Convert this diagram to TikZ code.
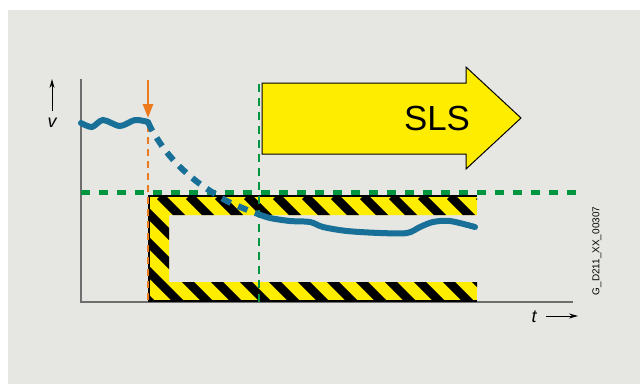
\documentclass[tikz,border=0pt]{standalone}
\usepackage{fontspec}
\setmainfont{Liberation Sans}
\usetikzlibrary{arrows.meta}
\definecolor{panelgray}{RGB}{230,231,226}
\definecolor{curveblue}{RGB}{24,112,152}
\definecolor{markorange}{RGB}{236,122,28}
\definecolor{limitgreen}{RGB}{0,150,64}
\definecolor{hazardyellow}{RGB}{255,237,0}
\definecolor{axisgray}{RGB}{110,110,110}

\begin{document}
\begin{tikzpicture}[x=1bp,y=-1bp]
  \useasboundingbox (0,0) rectangle (640,384);
  \fill[panelgray] (8,10) rectangle (640,384);
  % axes
  \coordinate (origin) at (81,302);
  \coordinate (ytop) at (81,79);
  \coordinate (xend) at (573,302);
  \draw[axisgray,line width=1.5bp] (ytop) -- (origin) -- (xend);
  \node[font=\itshape\fontsize{18}{18}\selectfont] (vlab) at (52,123) {v};
  \coordinate (vtip) at (52,79);
  \draw[-{Stealth[length=9bp,width=5bp]},line width=1bp] ([yshift=4bp]vlab.north) -- (vtip);
  \node[font=\itshape\fontsize{18}{18}\selectfont] (tlab) at (534,317) {t};
  \draw[-{Stealth[length=9bp,width=5bp]},line width=1bp] ([xshift=6bp,yshift=1bp]tlab.east) -- ++(32,0);
  % limit v_max
  \coordinate (vmaxL) at (81,192);
  \coordinate (vmaxR) at (576,192);
  \draw[limitgreen,line width=5bp,dash pattern=on 9bp off 9bp] (vmaxL) -- (vmaxR);
  % hatched band
  \begin{scope}
    \clip (149,196) -- (477,196) -- (477,215) -- (169,215) -- (169,282) -- (477,282) -- (477,301) -- (149,301) -- cycle;
    \fill[hazardyellow] (149,196) rectangle (477,301);
    \foreach \k in {-4,...,11}
      \draw[line width=8.5bp] (160+29*\k,196) -- ++(110,110);
  \end{scope}
  \draw[line width=1.2bp] (477,196) -- (149,196) -- (149,301) -- (477,301);
  % time marks
  \coordinate (sTop) at (259,84);
  \coordinate (sBot) at (259,302);
  \draw[limitgreen,line width=2.4bp,dash pattern=on 8bp off 6bp] (sTop) -- (sBot);
  \coordinate (tripTop) at (148,80);
  \coordinate (tripTip) at (148,118);
  \coordinate (tripBot) at (148,302);
  \draw[markorange,line width=2.6bp,-{Triangle[length=14bp,width=10bp]}] (tripTop) -- (tripTip);
  \draw[markorange,line width=2.6bp,dash pattern=on 7bp off 5bp] ([yshift=-7bp]tripTip) -- (tripBot);
  % speed curve
  \draw[curveblue,line width=6bp,line cap=round] plot[smooth] coordinates {(81,123) (92,127) (103,120) (120,126) (135,120) (148,122)};
  \draw[curveblue,line width=6bp,dash pattern=on 10bp off 8bp] plot[smooth] coordinates {(148,122) (153,132) (165,150) (180,167) (200,184) (225,200) (245,209) (258,214)};
  \draw[curveblue,line width=6bp,line cap=round] plot[smooth] coordinates {(258,214) (270,218) (290,221) (310,222) (323,227) (347,231) (380,233) (407,233) (420,227) (433,222) (450,221) (475,227)};
  % SLS arrow
  \draw[fill=hazardyellow,line width=1bp,line join=miter] (262,83) -- (466,83) -- (466,67) -- (521,118) -- (466,169) -- (466,154) -- (262,154) -- cycle;
  \node[font=\fontsize{35}{35}\selectfont] (sls) at (437,118) {SLS};
  \node[rotate=90,font=\fontsize{10}{10}\selectfont] (code) at (597,251) {G\_D211\_XX\_00307};
\end{tikzpicture}
\end{document}
